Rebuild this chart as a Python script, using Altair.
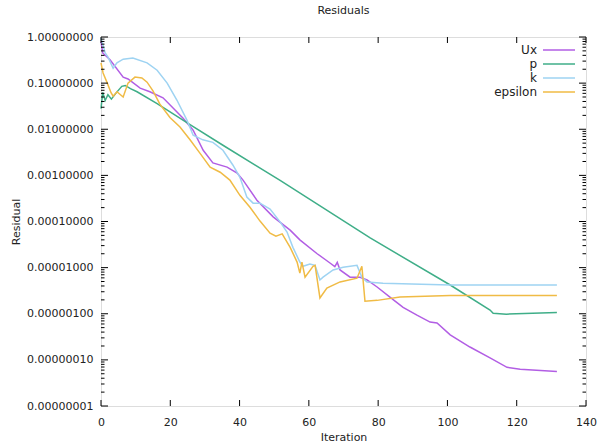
import altair as alt
import pandas as pd

series_names = ["Ux", "p", "k", "epsilon"]
series_colors = ["#b25ee4", "#3fae88", "#9ed3f2", "#f0bb45"]

ux_iter = [0, 0.5, 2.6, 6.4, 7.8, 11.3, 14.1, 17.9, 20.8, 23.7, 26.6, 29.5, 32.3, 36.4, 39.3,
           41.0, 45.0, 49.7, 54.6, 57.4, 62.4, 66.1, 67.5, 68.2, 69.0, 71.9, 74.8, 76.8, 79.7,
           83.4, 87.2, 91.2, 95.0, 97.0, 100.8, 106.5, 112.3, 117.2, 121.0, 131.6]
ux_val = [0.8, 0.45, 0.32, 0.135, 0.123, 0.078, 0.065, 0.048, 0.029, 0.0174, 0.0095, 0.0035,
          0.00186, 0.00151, 0.00112, 0.00079, 0.00029, 1.26e-4, 6.5e-5, 4.0e-5, 2.0e-5, 1.26e-5,
          1.05e-5, 1.3e-5, 8.9e-6, 6.2e-6, 6.2e-6, 5.4e-6, 3.8e-6, 2.3e-6, 1.38e-6, 9.3e-7,
          6.6e-7, 6.3e-7, 3.5e-7, 1.9e-7, 1.1e-7, 6.9e-8, 6.3e-8, 5.6e-8]

p_iter = [0, 0.5, 1.2, 2.0, 3.0, 4.5, 6.0, 7.0, 8.5, 10.4, 16.2, 25.7, 35.2, 51.7,
          77.7, 100.8, 112.3, 113.2, 117.0, 131.6]
p_val = [0.028, 0.063, 0.042, 0.056, 0.045, 0.063, 0.085, 0.089, 0.076, 0.065, 0.036, 0.0126,
         0.0045, 7.8e-4, 4.4e-5, 4.2e-6, 1.2e-6, 1.02e-6, 9.8e-7, 1.07e-6]

k_iter = [0, 1.2, 2.0, 3.5, 4.6, 6.4, 9.2, 13.3, 16.2, 19.1, 21.9, 24.8, 26.6, 29.4, 32.3,
          35.2, 38.1, 40.1, 42.1, 43.9, 45.9, 48.8, 51.7, 53.7, 55.4, 57.4, 58.3, 60.3, 61.8,
          63.2, 64.1, 67.0, 69.9, 73.9, 75.3, 76.8, 81.4, 100.8, 131.6]
k_val = [0.95, 0.45, 0.37, 0.21, 0.275, 0.33, 0.35, 0.275, 0.19, 0.10, 0.043, 0.0158, 0.0074,
         0.0059, 0.0052, 0.0035, 0.00166, 0.00091, 0.00034, 0.00025, 0.00025, 1.86e-4, 9.8e-5,
         5.9e-5, 2.75e-5, 1.32e-5, 1.07e-5, 1.2e-5, 1.12e-5, 5.4e-6, 6.2e-6, 8.9e-6, 1.02e-5,
         1.12e-5, 6.2e-6, 4.9e-6, 4.6e-6, 4.2e-6, 4.2e-6]

eps_iter = [0, 0.6, 1.7, 2.9, 3.5, 4.6, 6.4, 7.8, 9.8, 11.8, 13.3, 15.0, 17.0, 19.9, 22.8,
            25.7, 28.6, 31.5, 34.4, 37.2, 40.1, 43.0, 45.9, 48.8, 50.5, 52.3, 54.6, 56.6, 57.4,
            58.0, 58.9, 61.2, 61.8, 63.2, 65.2, 69.0, 73.9, 75.3, 76.2, 79.7, 86.3, 100.8, 131.6]
eps_val = [0.275, 0.166, 0.105, 0.062, 0.052, 0.065, 0.050, 0.10, 0.135, 0.129, 0.105, 0.068,
           0.035, 0.018, 0.0112, 0.0059, 0.0030, 0.00151, 0.00117, 0.00079, 0.00037, 2.04e-4,
           1.02e-4, 5.6e-5, 4.8e-5, 5.4e-5, 2.75e-5, 1.32e-5, 7.6e-6, 1.32e-5, 6.2e-6, 1.07e-5,
           1.12e-5, 2.2e-6, 3.6e-6, 4.9e-6, 5.9e-6, 1.07e-5, 1.86e-6, 1.95e-6, 2.3e-6, 2.5e-6,
           2.5e-6]

x_ticks = [0, 20, 40, 60, 80, 100, 120, 140]
y_ticks = [1e-8, 1e-7, 1e-6, 1e-5, 1e-4, 1e-3, 1e-2, 1e-1, 1.0]
y_minor = [m * 10.0 ** e for e in range(-8, 0) for m in range(2, 10)]

W, H = 485, 369
FONT = "DejaVu Sans"
TXT = "#222"

rows = []
for name, its, vals in [("Ux", ux_iter, ux_val), ("p", p_iter, p_val),
                        ("k", k_iter, k_val), ("epsilon", eps_iter, eps_val)]:
    for i, v in zip(its, vals):
        rows.append({"series": name, "iter": i, "val": v})
df = pd.DataFrame(rows)

common = dict(ticks=False, domain=False, grid=False, labelFont=FONT, labelFontSize=11,
              labelColor=TXT, titleFont=FONT, titleFontSize=11, titleFontWeight="normal",
              titleColor=TXT, labelFlush=False)

xscale = alt.Scale(domain=[0, 140], nice=False, zero=False)
yscale = alt.Scale(type="log", domain=[1e-8, 1], nice=False)
cscale = alt.Scale(domain=series_names, range=series_colors)
xaxis = alt.Axis(values=x_ticks, title="Iteration", labelPadding=10, titlePadding=4, **common)
yaxis = alt.Axis(values=y_ticks, format=".8f", title="Residual", labelPadding=8,
                 titlePadding=5, **common)

lines = alt.Chart(df).mark_line(strokeWidth=1.5).encode(
    x=alt.X("iter:Q", scale=xscale, axis=xaxis, title="Iteration"),
    y=alt.Y("val:Q", scale=yscale, axis=yaxis, title="Residual"),
    color=alt.Color("series:N", scale=cscale, legend=None),
    order=alt.Order("iter:Q"),
)

xt = pd.DataFrame({"iter": x_ticks})
ytm = pd.DataFrame({"val": y_ticks})
ytn = pd.DataFrame({"val": y_minor})

def xtick(y0, y1):
    return alt.Chart(xt).mark_rule(color="black", strokeWidth=1).encode(
        x=alt.X("iter:Q", scale=xscale, axis=xaxis, title="Iteration"),
        y=alt.value(y0), y2=alt.value(y1))

def ytick(data, x0, x1):
    return alt.Chart(data).mark_rule(color="black", strokeWidth=1).encode(
        y=alt.Y("val:Q", scale=yscale, axis=yaxis, title="Residual"),
        x=alt.value(x0), x2=alt.value(x1))

main = alt.layer(
    lines,
    xtick(H, H - 6), xtick(0, 6),
    ytick(ytm, 0, 7), ytick(ytm, W, W - 7),
    ytick(ytn, 0, 3.5), ytick(ytn, W, W - 3.5),
)

leg_df = pd.DataFrame({"series": series_names, "row": list(range(len(series_names)))})
lscale = alt.Scale(domain=[0, 3], range=[13, 55])
leg_text = alt.Chart(leg_df).mark_text(align="right", baseline="middle", font=FONT,
                                       fontSize=12, color=TXT).encode(
    x=alt.value(W - 49), y=alt.Y("row:Q", scale=lscale, axis=None), text="series:N")
leg_line = alt.Chart(leg_df).mark_rule(strokeWidth=1.5).encode(
    x=alt.value(W - 43), x2=alt.value(W - 11),
    y=alt.Y("row:Q", scale=lscale, axis=None),
    color=alt.Color("series:N", scale=cscale, legend=None))
legend = alt.layer(leg_text, leg_line)

chart = alt.layer(main, legend).resolve_scale(y="independent").properties(
    width=W, height=H,
    title=alt.TitleParams("Residuals", font=FONT, fontSize=11, fontWeight="normal",
                          color=TXT, offset=15),
    autosize=alt.AutoSizeParams(type="none"),
    padding={"left": 101, "top": 37, "right": 14, "bottom": 41},
).configure_view(stroke="black", strokeWidth=1.5).configure_axis(
    **common
).configure(background="white")

chart.save("out.html", embed_options={"renderer": "svg", "actions": False})
